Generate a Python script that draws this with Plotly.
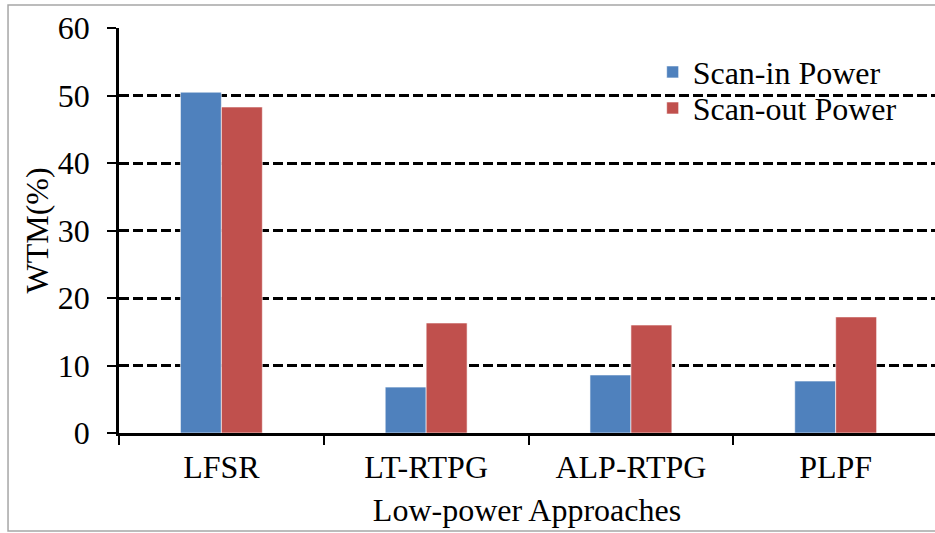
import plotly.graph_objects as go

# Data
approaches = ["LFSR", "LT-RTPG", "ALP-RTPG", "PLPF"]
scan_in_power = [50.5, 6.8, 8.6, 7.7]
scan_out_power = [48.3, 16.3, 16.0, 17.2]
y_ticks = [0, 10, 20, 30, 40, 50, 60]

FONT = "Liberation Serif, Times New Roman, serif"
FS = 32

fig = go.Figure()
fig.add_trace(go.Bar(
    name="Scan-in Power", x=approaches, y=scan_in_power, legend="legend",
    showlegend=True,
    marker=dict(color="#4F81BD", line=dict(color="rgba(255,255,255,0.6)", width=1)),
))
fig.add_trace(go.Bar(
    name="Scan-out Power", x=approaches, y=scan_out_power, legend="legend2",
    showlegend=True,
    marker=dict(color="#C0504D", line=dict(color="rgba(255,255,255,0.6)", width=1)),
))

legend_style = dict(xanchor="left", yanchor="middle", bgcolor="rgba(0,0,0,0)",
                    font=dict(size=FS), itemwidth=30, visible=True)

fig.update_layout(
    width=935, height=533,
    margin=dict(l=119, r=0, t=28, b=100),
    paper_bgcolor="white", plot_bgcolor="white",
    showlegend=True,
    barmode="group", bargap=0.6, bargroupgap=0,
    font=dict(family=FONT, size=FS, color="black"),
    legend=dict(x=0.654, y=0.891, **legend_style),
    legend2=dict(x=0.654, y=0.802, **legend_style),
    xaxis=dict(
        range=[-0.5, 3.485], tickson="boundaries",
        ticks="outside", ticklen=9, tickwidth=2, tickcolor="black",
        showline=True, linecolor="black", linewidth=2.5,
        showgrid=False, ticklabelstandoff=4,
        title=dict(text="Low-power Approaches", standoff=15, font=dict(size=FS)),
        tickfont=dict(size=FS),
    ),
    yaxis=dict(
        range=[0, 60], tickvals=y_ticks,
        ticks="outside", ticklen=9, tickwidth=2, tickcolor="black",
        showline=True, linecolor="black", linewidth=2.5,
        showgrid=True, gridcolor="black", gridwidth=2.5, griddash="10px,4px",
        zeroline=False, ticklabelstandoff=11,
        title=dict(text="WTM(%)", standoff=0, font=dict(size=FS)),
        tickfont=dict(size=FS),
    ),
    shapes=[dict(
        type="rect", xref="paper", yref="paper",
        x0=-0.136, x1=1.01, y0=-0.242, y1=1.057,
        line=dict(color="#A6A6A6", width=1.5), fillcolor="rgba(0,0,0,0)",
        layer="below",
    )],
)

fig.write_html("out.html")
